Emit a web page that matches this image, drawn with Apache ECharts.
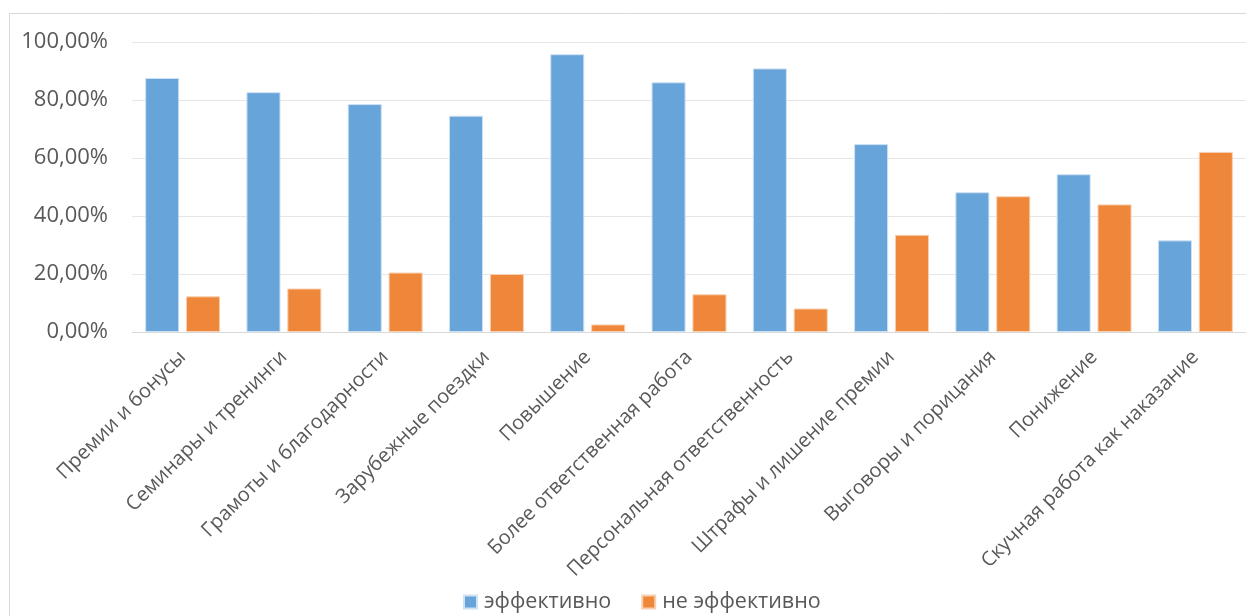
<!DOCTYPE html>
<html>
<head>
<meta charset="utf-8">
<script src="https://cdn.jsdelivr.net/npm/echarts@6/dist/echarts.min.js"></script>
<style>
  html, body { margin: 0; padding: 0; background: #fff; }
  #chart { width: 1246px; height: 616px; }
</style>
</head>
<body>
<div id="chart"></div>
<script>
var categories = [
  'Премии и бонусы',
  'Семинары и тренинги',
  'Грамоты и благодарности',
  'Зарубежные поездки',
  'Повышение',
  'Более ответственная работа',
  'Персональная ответственность',
  'Штрафы и лишение премии',
  'Выговоры и порицания',
  'Понижение',
  'Скучная работа как наказание'
];
var effective = [87.6, 82.7, 78.6, 74.6, 95.8, 86.1, 90.9, 64.8, 48.2, 54.4, 31.6];
var notEffective = [12.3, 15.0, 20.5, 20.0, 2.6, 13.0, 8.1, 33.5, 46.8, 44.0, 62.1];
var seriesNames = ['эффективно', 'не эффективно'];

var chart = echarts.init(document.getElementById('chart'));

var font = '"Open Sans", sans-serif';

var option = {
  backgroundColor: '#ffffff',
  color: ['#67a4d9', '#ef873a'],
  animation: false,
  graphic: [{
    type: 'rect',
    shape: { x: 9.5, y: 13.5, width: 1260, height: 620 },
    style: { fill: 'none', stroke: '#d9d9d9', lineWidth: 1 },
    silent: true
  }],
  grid: {
    left: 132,
    right: 0,
    top: 42,
    height: 290
  },
  legend: {
    bottom: -2,
    left: 458,
    itemWidth: 13,
    itemHeight: 13,
    itemGap: 30,
    icon: 'rect',
    textStyle: {
      fontFamily: font,
      fontSize: 21.5,
      color: '#595959',
      padding: [0, 0, 0, 2]
    },
    data: seriesNames
  },
  xAxis: {
    type: 'category',
    data: categories,
    axisLine: { lineStyle: { color: '#d9d9d9' } },
    axisTick: { show: false },
    axisLabel: {
      rotate: 45,
      interval: 0,
      margin: 22,
      fontFamily: font,
      fontSize: 20,
      color: '#595959'
    }
  },
  yAxis: {
    type: 'value',
    min: 0,
    max: 100,
    interval: 20,
    axisLine: { show: false },
    axisTick: { show: false },
    splitLine: { lineStyle: { color: '#e6e6e6' } },
    axisLabel: {
      margin: 24,
      fontFamily: font,
      fontSize: 22,
      color: '#595959',
      formatter: function (v) { return v.toFixed(2).replace('.', ',') + '%'; }
    }
  },
  series: [{
    name: seriesNames[0],
    type: 'bar',
    data: effective,
    barGap: '20%',
    barCategoryGap: '26%',
    itemStyle: { borderColor: '#cfe2f3', borderWidth: 1 }
  }, {
    name: seriesNames[1],
    type: 'bar',
    data: notEffective,
    barGap: '20%',
    barCategoryGap: '26%',
    itemStyle: { borderColor: '#f8cfb0', borderWidth: 1 }
  }]
};

chart.setOption(option);
</script>
</body>
</html>
